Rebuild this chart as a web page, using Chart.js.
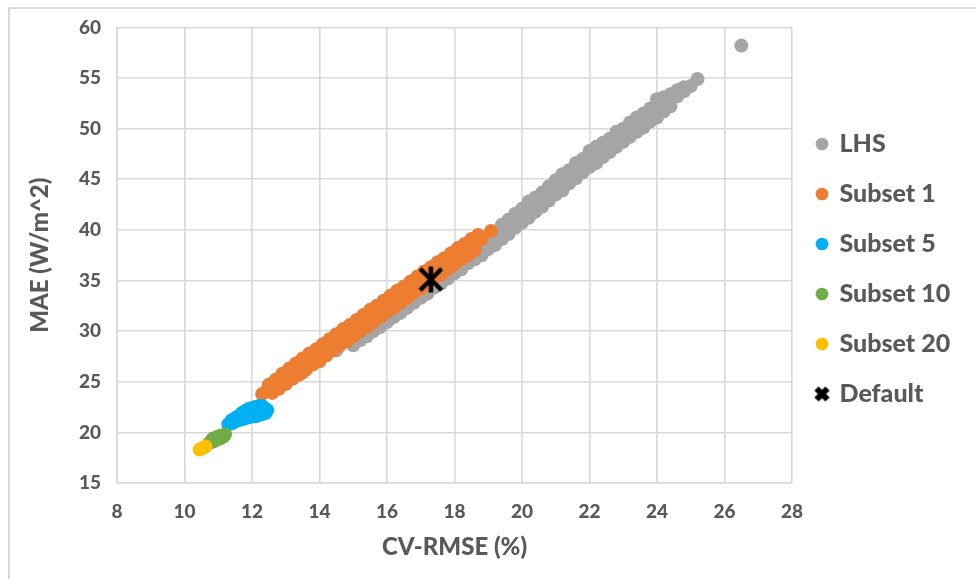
<!DOCTYPE html>
<html>
<head>
<meta charset="utf-8">
<script src="https://cdn.jsdelivr.net/npm/chart.js@4.4.1/dist/chart.umd.min.js"></script>
<style>
  html, body { margin: 0; padding: 0; background: #fff; }
  #wrap { position: relative; width: 976px; height: 579px; }
</style>
</head>
<body>
<div id="wrap"><canvas id="chart" width="976" height="579"></canvas></div>
<script>
// --- Data ---
const seriesNames = ['LHS', 'Subset 1', 'Subset 5', 'Subset 10', 'Subset 20', 'Default'];
const seriesColors = ['#A5A5A5', '#ED7D31', '#00B0F0', '#70AD47', '#FFC000', '#000000'];
const xTicks = [8, 10, 12, 14, 16, 18, 20, 22, 24, 26, 28];
const yTicks = [15, 20, 25, 30, 35, 40, 45, 50, 55, 60];

// LHS cloud: middle, upper and lower edge of the grey band, plus the outlier
const lhsPoints = [
  [13.0,24.8],[13.5,25.9],[14.0,27.0],[14.5,28.1],
  [15.0,29.3],[15.2,29.8],[15.4,30.2],[15.6,30.7],[15.8,31.1],[16.0,31.6],[16.2,32.1],[16.4,32.6],
  [16.6,33.0],[16.8,33.5],[17.0,34.0],[17.2,34.5],[17.4,35.0],[17.6,35.4],[17.8,35.9],[18.0,36.4],
  [18.2,36.9],[18.4,37.4],[18.6,37.8],[18.8,38.3],[19.0,38.8],[19.2,39.3],[19.4,39.8],[19.6,40.4],
  [19.8,40.9],[20.0,41.4],[20.2,42.0],[20.4,42.5],[20.6,43.1],[20.8,43.6],[21.0,44.2],[21.2,44.7],
  [21.4,45.3],[21.6,45.8],[21.8,46.4],[22.0,46.9],[22.2,47.4],[22.4,47.9],[22.6,48.4],[22.8,48.9],
  [23.0,49.4],[23.2,49.9],[23.4,50.4],[23.6,50.8],[23.8,51.3],[24.0,51.8],[24.2,52.3],[24.4,52.8],
  [24.6,53.2],[24.8,53.7],[25.0,54.2],[25.2,54.9],[26.5,58.2],
  // upper edge
  [19.4,40.5],[19.6,41.0],[19.8,41.6],[20.0,42.1],[20.2,42.8],[20.4,43.2],[20.6,43.7],[20.8,44.3],
  [21.0,44.9],[21.2,45.5],[21.4,45.9],[21.6,46.6],[21.8,47.0],[22.0,47.8],[22.2,48.2],[22.4,48.6],
  [22.6,49.0],[22.8,49.7],[23.0,50.0],[23.2,50.6],[23.4,51.1],[23.6,51.5],[23.8,52.0],[24.0,52.9],
  [24.2,53.1],[24.4,53.4],[24.6,53.8],[24.8,54.1],
  // lower edge
  [15.0,28.6],[15.2,29.1],[15.4,29.5],[15.6,30.0],[15.8,30.4],[16.0,30.9],[16.2,31.4],[16.4,31.8],
  [16.6,32.3],[16.8,32.8],[17.0,33.3],[17.2,33.7],[17.4,34.3],[17.6,34.7],[17.8,35.2],[18.0,35.7],
  [18.2,36.1],[18.4,36.7],[18.6,37.1],[18.8,37.5],[19.0,38.1],[19.2,38.5],[19.4,39.1],[19.6,39.6],
  [19.8,40.2],[20.0,40.7],[20.2,41.2],[20.4,41.8],[20.6,42.3],[20.8,42.9],[21.0,43.5],[21.2,43.9],
  [21.4,44.6],[21.6,45.1],[21.8,45.7],[22.0,46.2],[22.2,46.6],[22.4,47.2],[22.6,47.7],[22.8,48.2],
  [23.0,48.7],[23.2,49.2],[23.4,49.7],[23.6,50.1],[23.8,50.7],[24.0,51.1],[24.2,51.7],[24.4,52.2]
];

// Subset 1 cloud: middle, upper and lower edge of the orange band
const subset1Points = [
  [12.3,23.8],[12.4,24.0],[12.6,24.5],[12.8,25.0],[13.0,25.5],[13.2,25.9],[13.4,26.4],[13.6,26.9],
  [13.8,27.4],[14.0,27.8],[14.2,28.3],[14.4,28.8],[14.6,29.3],[14.8,29.7],[15.0,30.2],[15.2,30.7],
  [15.4,31.1],[15.6,31.6],[15.8,32.1],[16.0,32.6],[16.2,33.0],[16.4,33.5],[16.6,34.0],[16.8,34.5],
  [17.0,34.9],[17.2,35.4],[17.4,35.9],[17.6,36.3],[17.8,36.8],[18.0,37.3],[18.2,37.8],[18.4,38.2],
  [18.6,38.7],[18.8,39.1],[19.08,39.9],
  // upper edge
  [12.5,24.7],[12.7,25.2],[12.9,25.8],[13.1,26.3],[13.3,26.8],[13.5,27.3],[13.7,27.8],[13.9,28.2],
  [14.1,28.7],[14.3,29.2],[14.5,29.7],[14.7,30.2],[14.9,30.6],[15.1,31.1],[15.3,31.6],[15.5,32.1],
  [15.7,32.5],[15.9,33.0],[16.1,33.5],[16.3,34.0],[16.5,34.4],[16.7,34.9],[16.9,35.4],[17.1,35.9],
  [17.3,36.3],[17.5,36.8],[17.7,37.2],[17.9,37.7],[18.1,38.2],[18.3,38.6],[18.5,39.1],[18.7,39.5],
  // lower edge
  [12.6,23.9],[12.8,24.3],[13.0,24.8],[13.2,25.3],[13.4,25.7],[13.6,26.2],[13.8,26.7],[14.0,27.1],
  [14.2,27.6],[14.4,28.1],[14.6,28.6],[14.8,29.0],[15.0,29.5],[15.2,30.0],[15.4,30.4],[15.6,30.9],
  [15.8,31.4],[16.0,31.9],[16.2,32.3],[16.4,32.8],[16.6,33.3],[16.8,33.8],[17.0,34.2],[17.2,34.7],
  [17.4,35.2],[17.6,35.6],[17.8,36.1],[18.0,36.6],[18.2,37.1],[18.4,37.5],[18.6,38.0]
];

const subset5Points = [
  [11.3,20.8],[11.4,20.9],[11.4,21.2],[11.5,21.1],[11.5,21.4],[11.6,21.2],[11.6,21.6],
  [11.7,21.3],[11.7,21.7],[11.7,21.9],[11.8,21.4],[11.8,21.8],[11.8,22.1],[11.9,21.5],[11.9,21.9],
  [11.9,22.3],[12.0,21.6],[12.0,22.0],[12.0,22.4],[12.1,21.6],[12.1,22.1],[12.1,22.5],[12.2,21.7],
  [12.2,22.1],[12.2,22.6],[12.3,21.8],[12.3,22.2],[12.3,22.6],[12.4,21.9],[12.4,22.3],[12.45,22.2]
];
const subset10Points = [
  [10.75,19.0],[10.85,19.1],[10.85,19.4],[10.95,19.3],[11.0,19.6],[11.05,19.4],[11.1,19.7],
  [11.15,19.6],[11.2,19.8]
];
const subset20Points = [[10.45,18.3],[10.55,18.45],[10.62,18.6]];
const defaultPoints = [[17.3,35.1]];

// --- Marker images for the Default series ---
function makeStar(size, lw, withVertical) {
  const c = document.createElement('canvas');
  c.width = size; c.height = size;
  const g = c.getContext('2d');
  g.strokeStyle = '#000';
  g.lineWidth = lw;
  const m = lw / 2 + 1;
  g.beginPath();
  g.moveTo(m, m); g.lineTo(size - m, size - m);
  g.moveTo(size - m, m); g.lineTo(m, size - m);
  if (withVertical) {
    g.moveTo(size / 2, 1); g.lineTo(size / 2, size - 1);
  }
  g.stroke();
  return c;
}
const starMarker = makeStar(28, 4.5, true);
const legendCross = makeStar(19, 6, false);

const allPoints = [lhsPoints, subset1Points, subset5Points, subset10Points, subset20Points, defaultPoints];

const datasets = allPoints.map((pts, i) => ({
  label: seriesNames[i],
  data: pts.map(p => ({ x: p[0], y: p[1] })),
  backgroundColor: seriesColors[i],
  borderColor: seriesColors[i],
  borderWidth: 0,
  pointRadius: 7,
  pointHoverRadius: 7,
  pointStyle: i === 5 ? starMarker : 'circle',
  order: 6 - i
}));

const textColor = '#595959';
const gridColor = '#D9D9D9';
const FONT = 'Lato';

// legend: fixed width and vertical shift
const legendTweak = {
  id: 'legendTweak',
  beforeInit(chart) {
    const origFit = chart.legend.fit;
    chart.legend.fit = function () {
      origFit.call(this);
      this.width = 184;
    };
  },
  afterLayout(chart) {
    chart.legend.top -= 33;
    chart.legend.bottom -= 33;
  }
};

// outer frame lines (top and left)
const frame = {
  id: 'frame',
  beforeDraw(chart) {
    const ctx = chart.ctx;
    ctx.save();
    ctx.fillStyle = '#DADADA';
    ctx.fillRect(8, 7, 968, 2);
    ctx.fillRect(8, 7, 2, 572);
    ctx.restore();
  }
};

new Chart(document.getElementById('chart'), {
  type: 'scatter',
  data: { datasets },
  options: {
    responsive: false,
    animation: false,
    devicePixelRatio: 1,
    layout: { padding: { top: 25, left: 0, right: 0, bottom: 0 } },
    plugins: {
      tooltip: { enabled: false },
      legend: {
        position: 'right',
        labels: {
          usePointStyle: true,
          boxWidth: 10,
          boxHeight: 9,
          padding: 25,
          color: textColor,
          font: { family: FONT, size: 25, weight: '900' },
          sort: (a, b) => a.datasetIndex - b.datasetIndex,
          generateLabels(chart) {
            const items = Chart.defaults.plugins.legend.labels.generateLabels(chart);
            items.forEach(it => {
              if (it.datasetIndex === 5) it.pointStyle = legendCross;
              it.lineWidth = 0;
            });
            return items;
          }
        }
      }
    },
    scales: {
      x: {
        type: 'linear',
        min: 8,
        max: 28,
        afterFit(scale) { scale.height = 96; },
        afterBuildTicks(scale) { scale.ticks = xTicks.map(v => ({ value: v })); },
        grid: { color: gridColor, lineWidth: 1.6, drawTicks: false },
        border: { color: gridColor, width: 1.6 },
        ticks: {
          padding: 17,
          color: textColor,
          font: { family: FONT, size: 19, weight: '900' }
        },
        title: {
          display: true,
          text: 'CV-RMSE (%)',
          color: textColor,
          font: { family: FONT, size: 24, weight: '900', lineHeight: 1.2 },
          padding: { top: 17, bottom: 17 }
        }
      },
      y: {
        type: 'linear',
        min: 15,
        max: 60,
        afterFit(scale) { scale.width = 117; },
        afterBuildTicks(scale) { scale.ticks = yTicks.map(v => ({ value: v })); },
        grid: { color: gridColor, lineWidth: 1.6, drawTicks: false },
        border: { color: gridColor, width: 1.6 },
        ticks: {
          padding: 16,
          color: textColor,
          font: { family: FONT, size: 19, weight: '900' }
        },
        title: {
          display: true,
          text: 'MAE (W/m^2)',
          color: textColor,
          font: { family: FONT, size: 24, weight: '900', lineHeight: 1.2 },
          padding: { top: 26, bottom: 26 }
        }
      }
    }
  },
  plugins: [legendTweak, frame]
});
</script>
</body>
</html>
